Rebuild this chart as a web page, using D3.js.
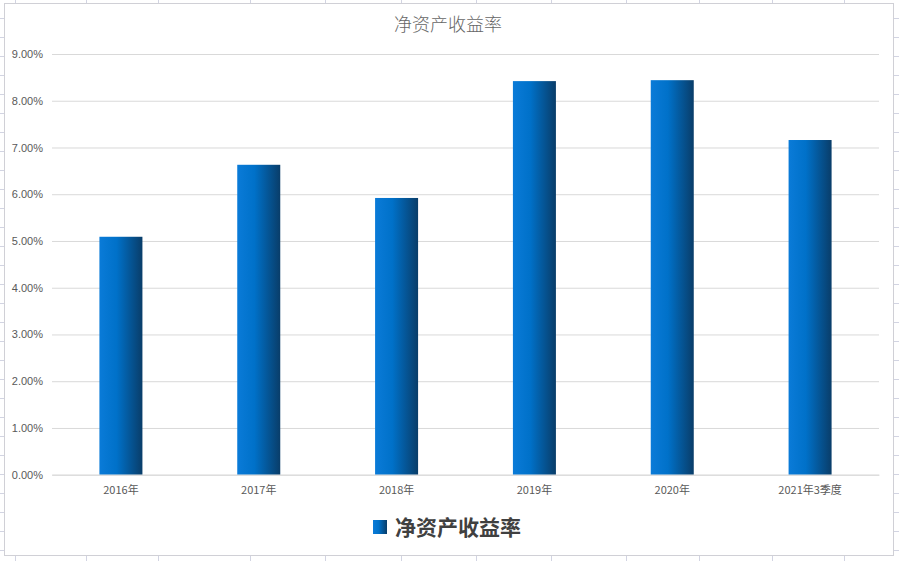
<!DOCTYPE html>
<html>
<head>
<meta charset="utf-8">
<script src="https://cdn.jsdelivr.net/npm/d3@7"></script>
<style>
    body { margin: 0; background: #fff; }
    svg { display: block; }
</style>
</head>
<body>
<div id="chart"></div>
<script>
let categories = ['2016年', '2017年', '2018年', '2019年', '2020年', '2021年3季度'];
let roeValues = [0.0509, 0.0663, 0.0592, 0.0842, 0.0844, 0.0716];
let yTicks = [0, 0.01, 0.02, 0.03, 0.04, 0.05, 0.06, 0.07, 0.08, 0.09];
let chartTitle = '净资产收益率';
let seriesName = '净资产收益率';

(function () {
    let width = 899, height = 561;
    let svg = d3.select('#chart')
        .append('svg')
        .attr('width', width)
        .attr('height', height);

    // 渐变色（柱子从左到右变暗）
    let defs = svg.append('defs');
    let grad = defs.append('linearGradient')
        .attr('id', 'barGrad')
        .attr('x1', '0%').attr('x2', '100%')
        .attr('y1', '0%').attr('y2', '0%');
    grad.append('stop').attr('offset', '0%').attr('stop-color', '#0a7bd8');
    grad.append('stop').attr('offset', '40%').attr('stop-color', '#0071c9');
    grad.append('stop').attr('offset', '100%').attr('stop-color', '#093d69');

    // 背后的表格线
    let sheet = svg.append('g');
    let colLines = [15, 86, 158, 250, 325, 401, 476, 551, 626, 699, 772, 844];
    sheet.selectAll('line.col')
        .data(colLines)
        .enter()
        .append('line')
        .attr('x1', function (d) { return d + 0.5; })
        .attr('x2', function (d) { return d + 0.5; })
        .attr('y1', 0)
        .attr('y2', height)
        .attr('stroke', '#d2d4e2');
    sheet.selectAll('line.row')
        .data(d3.range(0, 30))
        .enter()
        .append('line')
        .attr('x1', 0)
        .attr('x2', width)
        .attr('y1', function (d) { return 18.5 + 19 * d; })
        .attr('y2', function (d) { return 18.5 + 19 * d; })
        .attr('stroke', '#d2d4e2');

    // 图表区
    svg.append('rect')
        .attr('x', 4.5)
        .attr('y', 3.5)
        .attr('width', 889)
        .attr('height', 552)
        .attr('fill', '#fff')
        .attr('stroke', '#d0d0d6');

    let left = 52, right = 879, top = 54, bottom = 474.7;

    let x = d3.scaleBand()
        .domain(categories)
        .range([left, right])
        .paddingInner(0.688)
        .paddingOuter(0.344);

    let y = d3.scaleLinear()
        .domain([0, 0.09])
        .range([bottom, top]);

    // 网格线 + y轴标签
    let axisY = d3.axisLeft(y)
        .tickValues(yTicks)
        .tickFormat(d3.format('.2%'))
        .tickSize(-(right - left))
        .tickPadding(9);

    let gy = svg.append('g')
        .attr('transform', 'translate(' + left + ',0)')
        .call(axisY);
    gy.select('.domain').remove();
    gy.selectAll('line').attr('stroke', '#d9d9d9');
    gy.selectAll('text')
        .attr('fill', '#595959')
        .style('font-family', '"Liberation Sans", Arial, sans-serif')
        .style('font-size', '11px');

    // 柱子
    svg.selectAll('rect.bar')
        .data(roeValues)
        .enter()
        .append('rect')
        .attr('class', 'bar')
        .attr('x', function (d, i) { return x(categories[i]); })
        .attr('y', function (d) { return y(d); })
        .attr('width', x.bandwidth())
        .attr('height', function (d) { return y(0) - y(d); })
        .attr('fill', 'url(#barGrad)');

    // x轴
    let axisX = d3.axisBottom(x)
        .tickSize(0)
        .tickPadding(12);
    let gx = svg.append('g')
        .attr('transform', 'translate(0,' + bottom + ')')
        .call(axisX);
    gx.select('.domain').attr('stroke', '#d9d9d9');
    gx.selectAll('text')
        .attr('fill', '#595959')
        .style('font-family', '"Noto Sans CJK SC", sans-serif')
        .style('font-size', '11px');

    // 标题
    svg.append('text')
        .attr('x', 448)
        .attr('y', 31)
        .attr('text-anchor', 'middle')
        .attr('fill', '#666')
        .style('font-family', '"Noto Sans CJK SC", sans-serif')
        .style('font-size', '18px')
        .style('font-weight', 300)
        .text(chartTitle);

    // 图例
    let legend = svg.append('g');
    legend.append('rect')
        .attr('x', 373)
        .attr('y', 520)
        .attr('width', 14)
        .attr('height', 14)
        .attr('fill', 'url(#barGrad)');
    legend.append('text')
        .attr('x', 395)
        .attr('y', 535)
        .attr('fill', '#404040')
        .style('font-family', '"Noto Sans CJK SC", sans-serif')
        .style('font-size', '21px')
        .style('font-weight', 'bold')
        .text(seriesName);
})();
</script>
</body>
</html>
